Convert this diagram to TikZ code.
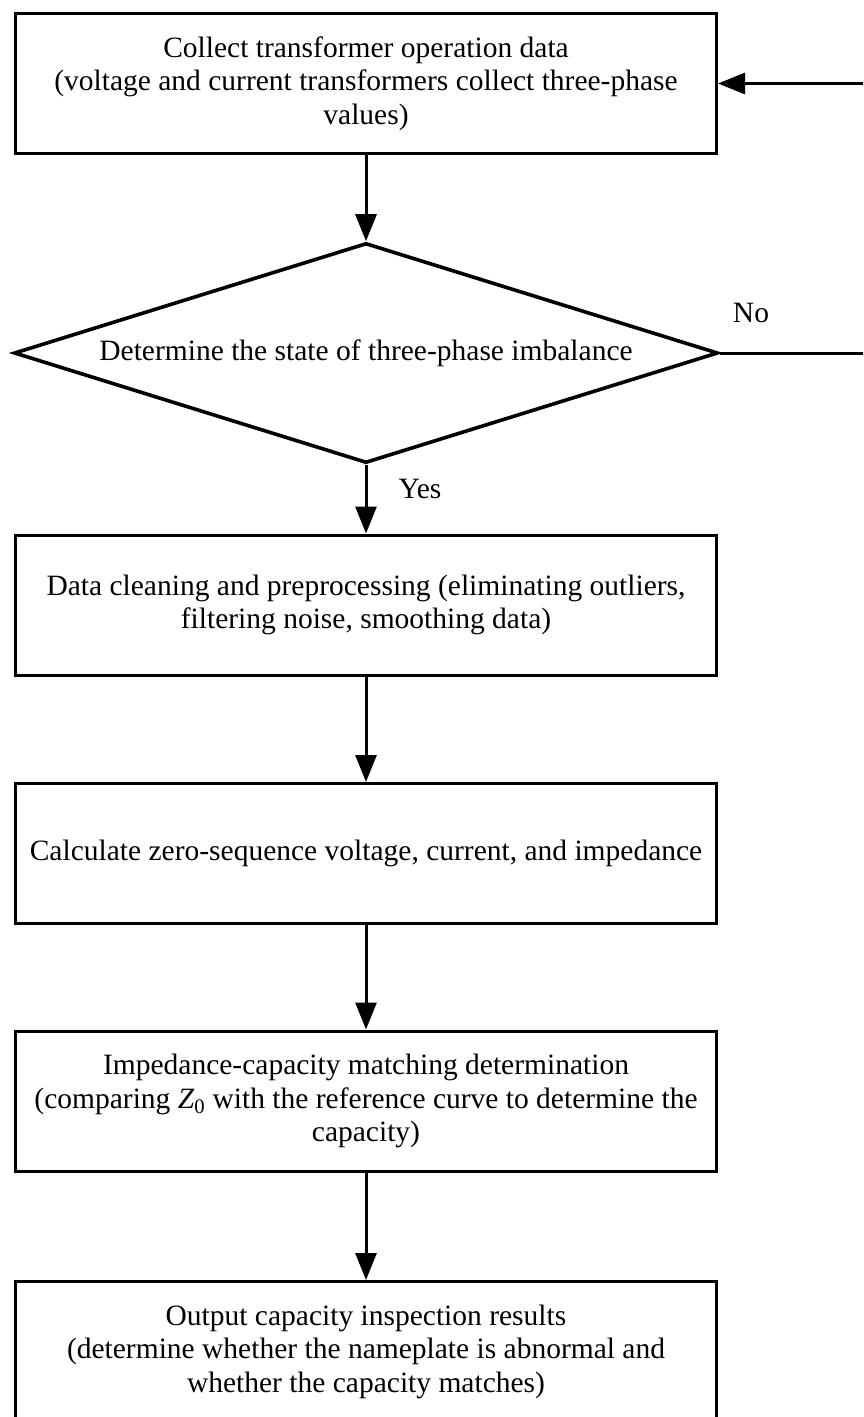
\documentclass[tikz,border=0pt]{standalone}
\usepackage{fontspec}
\setmainfont{Liberation Serif}
\usetikzlibrary{shapes.geometric,arrows.meta}
\begin{document}
\begin{tikzpicture}[x=1pt,y=-1pt,
  txt/.style={font=\fontsize{29.5}{33.5}\selectfont},
  box/.style={txt,draw,line width=3pt,minimum width=701pt,minimum height=140pt,inner sep=0pt,align=center},
  dia/.style={txt,draw,diamond,aspect=3.2,line width=3.6pt,minimum width=704pt,minimum height=220pt,inner sep=0pt},
  arr/.style={line width=3pt,-{Triangle[length=27pt,width=21pt]}},
  lnk/.style={line width=3pt}]
\useasboundingbox (0,0) rectangle (863,1417);
\clip (0,0) rectangle (863,1417);
\fill[white] (0,0) rectangle (863,1417);

\node[box] (b1) at (366,83.5) {Collect transformer operation data\\(voltage and current transformers collect three-phase\\values)};
\node[dia] (d) at (366,353) {Determine the state of three-phase imbalance};
\node[box] (b2) at (366,605) {Data cleaning and preprocessing (eliminating outliers,\\filtering noise, smoothing data)};
\node[box] (b3) at (366,853.5) {Calculate zero-sequence voltage, current, and impedance};
\node[box] (b4) at (366,1101) {Impedance-capacity matching determination\\(comparing \textit{Z}\textsubscript{0} with the reference curve to determine the\\capacity)};
\node[box] (b5) at (366,1351.5) {Output capacity inspection results\\(determine whether the nameplate is abnormal and\\whether the capacity matches)};

\node[txt] (no) at (751,313) {No};
\node[txt] (yes) at (420,489) {Yes};

\coordinate (nr) at (866,353);
\coordinate (nt) at (866,83.5);

\draw[arr] (b1) -- (d);
\draw[arr] (d) -- (b2);
\draw[arr] (b2) -- (b3);
\draw[arr] (b3) -- (b4);
\draw[arr] (b4) -- (b5);
\draw[arr] (d.east) -- (nr) -- (nt) -- (b1.east);
\end{tikzpicture}
\end{document}
